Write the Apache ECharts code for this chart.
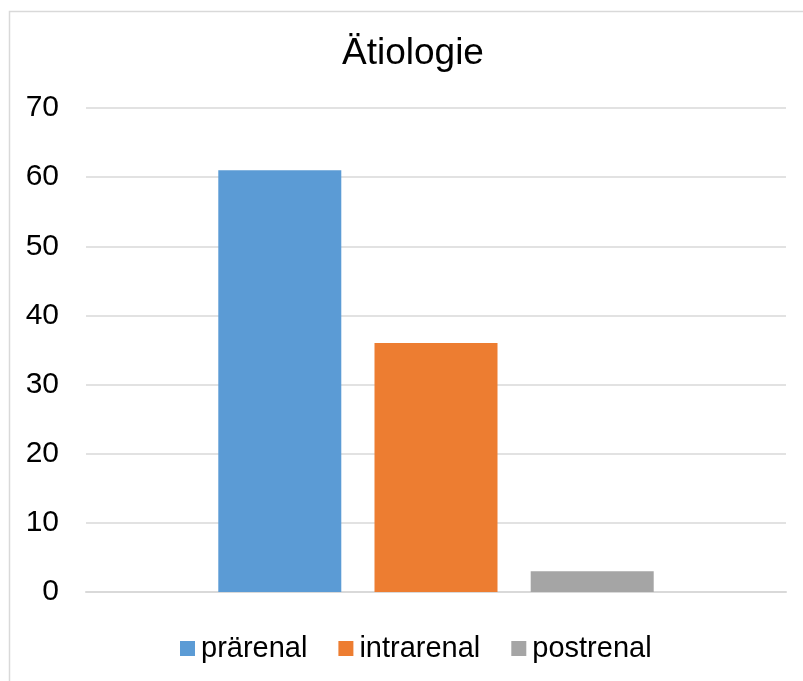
<!DOCTYPE html>
<html>
<head>
<meta charset="utf-8">
<script src="https://cdn.jsdelivr.net/npm/echarts@6/dist/echarts.min.js"></script>
<style>
  html, body { margin: 0; padding: 0; background: #fff; }
  #chart { width: 803px; height: 681px; }
</style>
</head>
<body>
<div id="chart"></div>
<script>
// Ätiologie: counts per cause category
const categories = [''];
const seriesNames = ['prärenal', 'intrarenal', 'postrenal'];
const seriesValues = [[61], [36], [3]];
const seriesColors = ['#5b9bd5', '#ed7d31', '#a5a5a5'];
const yTicks = { min: 0, max: 70, interval: 10 };

const font = 'Arial, "Liberation Sans", sans-serif';
const chart = echarts.init(document.getElementById('chart'));

chart.setOption({
  animation: false,
  backgroundColor: '#ffffff',
  graphic: [{
    type: 'rect',
    shape: { x: 9.5, y: 11.5, width: 820, height: 720 },
    style: { fill: 'none', stroke: '#d9d9d9', lineWidth: 1.5 },
    silent: true
  }],
  title: {
    text: 'Ätiologie',
    left: 342,
    top: 35,
    padding: 0,
    textStyle: { fontFamily: font, fontSize: 37, fontWeight: 'normal', color: '#000' }
  },
  legend: {
    bottom: 13,
    left: 175,
    itemWidth: 15,
    itemHeight: 15,
    itemGap: 31,
    icon: 'rect',
    textStyle: { fontFamily: font, fontSize: 29, color: '#000', padding: [0, 0, 0, 1] },
    data: seriesNames
  },
  grid: { left: 86, right: 17, top: 108, bottom: 89 },
  xAxis: {
    type: 'category',
    data: categories,
    axisLine: { show: true, lineStyle: { color: '#d9d9d9', width: 2 } },
    axisTick: { show: false },
    axisLabel: { show: false }
  },
  yAxis: {
    type: 'value',
    min: yTicks.min,
    max: yTicks.max,
    interval: yTicks.interval,
    axisLine: { show: false },
    axisTick: { show: false },
    axisLabel: { fontFamily: font, fontSize: 30, color: '#000', margin: 27 },
    splitLine: { lineStyle: { color: '#d9d9d9', width: 1.5 } }
  },
  series: seriesNames.map((name, i) => ({
    name: name,
    type: 'bar',
    data: seriesValues[i],
    barWidth: 123,
    barGap: '27%',
    itemStyle: { color: seriesColors[i] }
  }))
});
</script>
</body>
</html>
